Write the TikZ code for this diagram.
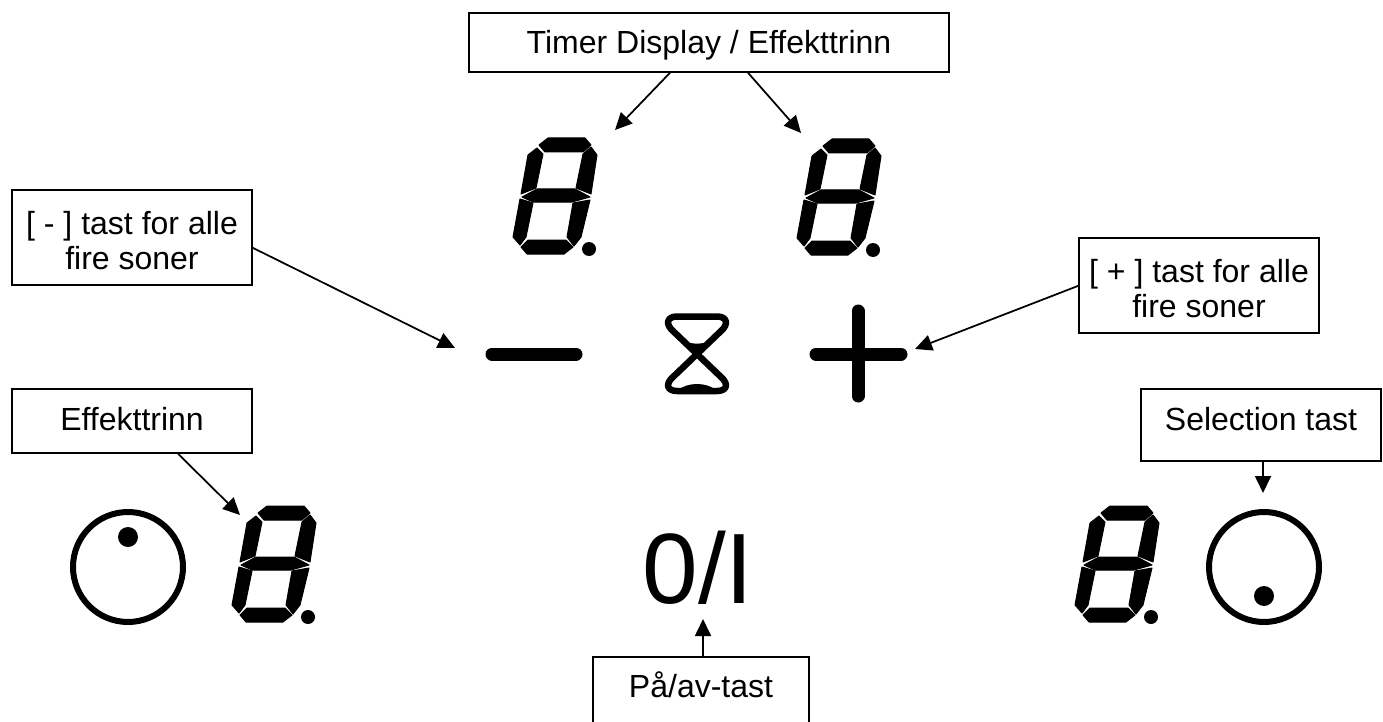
\documentclass[tikz,border=0pt]{standalone}
\usepackage{fontspec}
\setmainfont{Liberation Sans}
\usetikzlibrary{arrows.meta}
\tikzset{
  tagbox/.style={draw, line width=1.75pt, inner sep=0pt, anchor=north, font=\fontsize{32}{35}\selectfont, align=center},
  tagarrow/.style={line width=1.75pt, -{Triangle[length=17pt,width=16pt]}},
  knob/.style={draw, circle, line width=6pt, minimum size=110pt, inner sep=0pt},
  knobdot/.style={circle, fill=black, minimum size=20pt, inner sep=0pt},
  bar/.style={line width=13pt, line cap=round},
  segment/.style={fill=black, draw=black, line width=1pt, line join=round},
  segdigit/.pic={
    \path[segment] (49,25) -- (58,18) -- (95,18) -- (101,25) -- (93,32) -- (55,32) -- cycle;
    \path[segment] (38,35) -- (47,28) -- (53,34) -- (46,68) -- (31,74) -- cycle;
    \path[segment] (101,27) -- (107,35) -- (101,74) -- (86,68) -- (93,34) -- cycle;
    \path[segment] (32,77) -- (47,69) -- (85,69) -- (100,77) -- (82,82) -- (43,82) -- cycle;
    \path[segment] (30,79) -- (43,83) -- (36,117) -- (30,125) -- (23,117) -- cycle;
    \path[segment] (100,80) -- (91,117) -- (84,126) -- (77,117) -- (83,83) -- cycle;
    \path[segment] (31,127) -- (38,120) -- (76,120) -- (83,127) -- (74,134) -- (37,134) -- cycle;
    \fill (99,129) circle (7);
  }
}
\begin{document}
\begin{tikzpicture}[x=1pt, y=-1pt]
  \useasboundingbox (0,0) rectangle (1383,722);

  \node (timerbox) at (709,12) [tagbox, minimum width=480pt, minimum height=59pt, text height=41pt, text depth=18pt] {Timer Display / Effekttrinn};
  \node (minusbox) at (132,189) [tagbox, minimum width=240pt, minimum height=95pt] {\rule{0pt}{30pt}[ - ] tast for alle\\fire soner};
  \node (plusbox) at (1199,237) [tagbox, minimum width=240pt, minimum height=95pt] {\rule{0pt}{30pt}[ + ] tast for alle\\fire soner};
  \node (effektbox) at (132,388) [tagbox, minimum width=240pt, minimum height=64pt, text height=42pt, text depth=22pt] {Effekttrinn};
  \node (selectbox) at (1261,388) [tagbox, minimum width=240pt, minimum height=72pt, text height=42pt, text depth=30pt] {Selection tast};
  \node (powerbox) at (701,656) [tagbox, minimum width=216pt, text height=41pt, text depth=40pt] {På/av-tast};

  \pic at (490,120) {segdigit};
  \pic at (774,121) {segdigit};
  \pic at (209,488) {segdigit};
  \pic at (1052,488) {segdigit};

  \node (knobleft) at (128,567) [knob] {};
  \node (dotleft) at (128,537) [knobdot] {};
  \node (knobright) at (1264,567) [knob] {};
  \node (dotright) at (1264,596) [knobdot] {};

  \draw[bar] (492,354) -- (576,354);
  \draw[bar] (816,354) -- (901,354);
  \draw[bar] (858,311) -- (858,396);

  \draw[line width=6.5pt, line join=round] (697,354) -- (673,331) .. controls (665,324) and (667,316.5) .. (677,316.5) -- (717,316.5) .. controls (727,316.5) and (729,324) .. (721,331) -- (697,354) -- (673,377) .. controls (665,384) and (667,391) .. (677,391) -- (717,391) .. controls (727,391) and (729,384) .. (721,377) -- cycle;
  \fill (697,354) -- (685,341) .. controls (690,344.5) and (704,344.5) .. (709,341) -- cycle;
  \fill (678,390) .. controls (688,382) and (706,382) .. (716,390) -- cycle;

  \node (powerkey) at (698,603) [anchor=base, inner sep=0pt, font=\fontsize{100}{100}\selectfont] {0/I};

  \coordinate (timertipl) at (615,130);
  \coordinate (timertipr) at (801,133);
  \coordinate (minustip) at (455,348);
  \coordinate (plustip) at (915,349);
  \coordinate (effekttip) at (240,515);
  \coordinate (selecttip) at (1263,493);
  \coordinate (powertip) at (703,619);

  \draw[tagarrow] ([xshift=-39pt]timerbox.south) -- (timertipl);
  \draw[tagarrow] ([xshift=39pt]timerbox.south) -- (timertipr);
  \draw[tagarrow] ([yshift=-10.5pt]minusbox.east) -- (minustip);
  \draw[tagarrow] ([yshift=-0.5pt]plusbox.west) -- (plustip);
  \draw[tagarrow] ([xshift=46pt]effektbox.south) -- (effekttip);
  \draw[tagarrow] ([xshift=2pt]selectbox.south) -- (selecttip);
  \draw[tagarrow] ([xshift=2pt]powerbox.north) -- (powertip);
\end{tikzpicture}
\end{document}
